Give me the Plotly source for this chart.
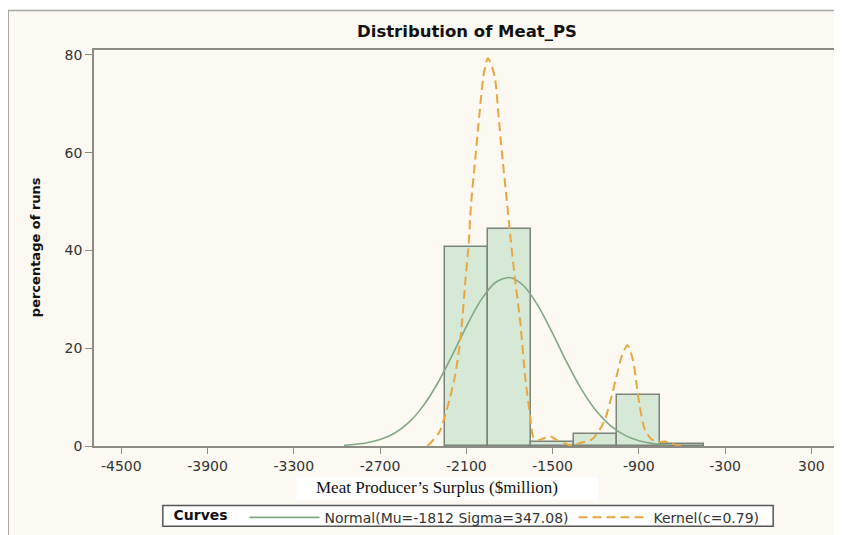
import plotly.graph_objects as go

# histogram bins (midpoints, $million) and percentage of runs
bin_mid = [-2100, -1800, -1500, -1200, -900, -600]
bin_pct = [40.8, 44.4, 0.8, 2.4, 10.4, 0.4]

# fitted normal curve
normal_x = [-2950, -2900, -2800, -2700, -2600, -2500, -2400, -2300, -2200, -2100,
            -2000, -1900, -1800, -1700, -1600, -1500, -1400, -1300, -1200, -1100,
            -1000, -900, -800, -700]
normal_y = [0.16, 0.25, 0.60, 1.31, 2.62, 4.84, 8.21, 12.84, 18.46, 24.44,
            29.78, 33.39, 34.46, 32.73, 28.61, 23.02, 17.05, 11.62, 7.29, 4.21,
            2.23, 1.09, 0.49, 0.20]

# kernel density curve
kernel_x = [-2370, -2290, -2240, -2180, -2140, -2107, -2084, -2068, -2038, -2008,
            -1978, -1950, -1922, -1899, -1876, -1853, -1825, -1795, -1760, -1726,
            -1691, -1656, -1633, -1600, -1560, -1518, -1470, -1414, -1368, -1298,
            -1229, -1171, -1136, -1102, -1056, -1021, -980, -940, -917, -894,
            -859, -813, -760, -720, -680, -640, -600]
kernel_y = [0.0, 2.7, 7.0, 14.2, 22.3, 33.7, 41.2, 49.3, 58.7, 68.2,
            76.3, 79.3, 77.6, 74.9, 67.5, 60.0, 52.0, 43.2, 33.7, 25.6,
            14.2, 6.1, 1.7, 1.2, 1.6, 2.0, 1.2, 0.5, 0.1, 0.7,
            1.3, 3.4, 5.4, 8.8, 14.2, 18.2, 20.6, 17.5, 12.8, 8.1,
            3.4, 1.4, 0.8, 0.9, 0.6, 0.2, 0.0]

x_ticks = [-4500, -3900, -3300, -2700, -2100, -1500, -900, -300, 300]
x_tick_labels = ['-4500', '-3900', '-3300', '-2700', '-2100', '-1500', '-900', '-300', '300']
y_ticks = [0, 20, 40, 60, 80]

SANS = 'DejaVu Sans, Liberation Sans, Arial, sans-serif'
SERIF = 'Liberation Serif, Times New Roman, serif'
FRAME = '#8c8c84'
CREAM = '#fbf9f1'

# the page body adds an 8px margin, so the figure is drawn 8px smaller
OFF = 8
W, H = 842 - OFF, 535 - OFF
L, T = 94 - OFF, 50 - OFF
R = W - (841 - OFF)
B = H - (450 - OFF)
PW, PH = W - L - R, H - T - B


def px_x(p):
    # reference pixel column -> paper x
    return (p - OFF - L) / PW


def px_y(p):
    # reference pixel row -> paper y
    return (H - B - (p - OFF)) / PH


fig = go.Figure()
fig.add_trace(
    go.Bar(
        x=bin_mid,
        y=bin_pct,
        width=300,
        marker=dict(color='#d6e8d6', line=dict(color='#7a847a', width=1.5)),
        showlegend=False,
        hoverinfo='x+y',
    )
)
fig.add_trace(
    go.Scatter(
        x=normal_x,
        y=normal_y,
        mode='lines',
        name='Normal(Mu=-1812 Sigma=347.08)',
        line=dict(color='#80a882', width=1.6, shape='spline', smoothing=0.8),
    )
)
fig.add_trace(
    go.Scatter(
        x=kernel_x,
        y=kernel_y,
        mode='lines',
        name='Kernel(c=0.79)',
        line=dict(color='#e8a640', width=2, dash='9px,5px', shape='spline', smoothing=0.7),
    )
)

axis_style = dict(
    ticks='outside',
    tickcolor=FRAME,
    showline=True,
    linecolor=FRAME,
    linewidth=1.5,
    mirror=True,
    showgrid=False,
    zeroline=False,
    tickfont=dict(family=SANS, size=14, color='#333333'),
)
fig.update_xaxes(range=[-4690, 492], tickvals=x_ticks, ticktext=x_tick_labels,
                 ticklen=6, **axis_style)
fig.update_yaxes(range=[0, 81], tickvals=y_ticks, ticklen=7, **axis_style)

fig.update_layout(
    width=W,
    height=H,
    margin=dict(l=L, r=R, t=T, b=B, pad=0),
    paper_bgcolor='white',
    plot_bgcolor='white',
    bargap=0,
    title=dict(
        text='<b>Distribution of Meat_PS</b>',
        x=px_x(468), xref='paper', xanchor='center',
        y=1 - (31 - OFF) / H, yanchor='middle',
        font=dict(family=SANS, size=16.5, color='#111111'),
    ),
    shapes=[
        # cream page behind the chart, with its thin grey border
        dict(type='rect', xref='paper', yref='paper', layer='below',
             x0=px_x(8), x1=px_x(860), y0=px_y(560), y1=px_y(10),
             fillcolor=CREAM, line=dict(color='#a8a8a0', width=1.5)),
        # white box behind the x axis title
        dict(type='rect', xref='paper', yref='paper', layer='below',
             x0=px_x(297), x1=px_x(600), y0=px_y(504), y1=px_y(481),
             fillcolor='white', line=dict(width=0)),
        # legend frame
        dict(type='rect', xref='paper', yref='paper', layer='below',
             x0=px_x(163), x1=px_x(775), y0=px_y(531), y1=px_y(510),
             fillcolor='white', line=dict(color='#555555', width=1.5)),
    ],
    annotations=[
        dict(text='Meat Producer’s Surplus ($million)', xref='paper', yref='paper',
             x=px_x(438), y=px_y(492), xanchor='center', yanchor='middle',
             showarrow=False, font=dict(family=SERIF, size=17, color='#111111')),
        dict(text='<b>percentage of runs</b>', xref='paper', yref='paper',
             x=px_x(35), y=px_y(249), xanchor='center', yanchor='middle',
             textangle=-90, showarrow=False,
             font=dict(family=SANS, size=13, color='#111111')),
    ],
    legend=dict(
        orientation='h',
        title=dict(text='<b>Curves</b>  ', font=dict(family=SANS, size=14, color='#111111')),
        x=px_x(469), xanchor='center',
        y=px_y(522.5), yanchor='middle',
        bgcolor='rgba(0,0,0,0)',
        borderwidth=0,
        itemwidth=70,
        tracegroupgap=0,
        font=dict(family=SANS, size=14, color='#333333'),
    ),
    hovermode='closest',
)

fig.write_html('out.html')
